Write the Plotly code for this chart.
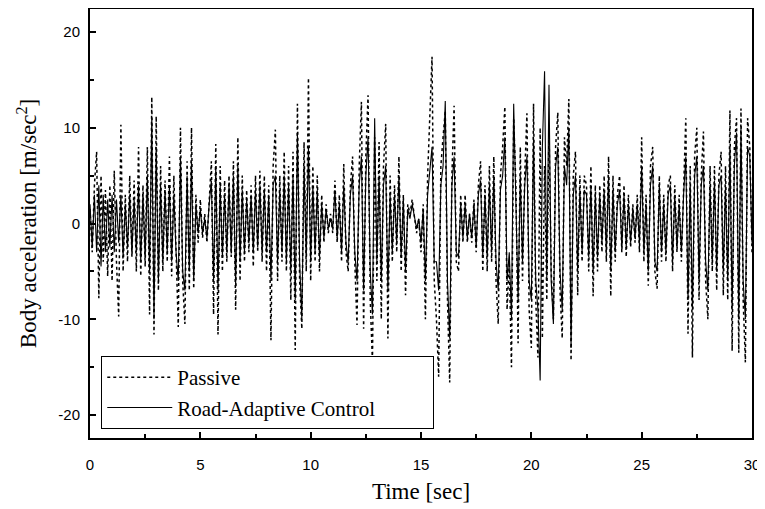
import plotly.graph_objects as go

# Time step 0.1 s, 0..30 s
time_step = 0.1
passive = [
    1.5, -3, 4, 7.5, -7.8, 5, -4, 3.5, -5.5, 4,
    -6, 5.5, -4, -9.7, 10.3, -5, 3, -4, 5, -3.5,
    4.5, -5, 8, -5.5, 4, -4.5, 8, -9.5, 13.2, -11.6,
    11.2, -7, 6, -5, 4.5, -4, 7, -5.5, 5, -4,
    -10.8, 10, -6, -10.5, 6.5, -7, 10, -6.8, 3, -2,
    2.5, -1.5, 1, -2, 3, 6.5, -9.5, 8.3, -11.6, 6,
    -5, 4.5, -4, 5, -3.5, 6.5, -9, 9, -6, 5,
    -4, 3.5, -3, 4, -4.5, 5, -3, 5.5, -4, 5,
    -5, 4, -12.2, 6, 9.8, -6, 5, -4, 7.5, -5,
    6, -8, 7.5, -13.2, 12.5, -6, -11, 8.5, -5, 15.2,
    -6, 6, -4, 5, -5, 3, -2, 2, -1, 1,
    -1, 4.5, -2, 3, -4, 6.2, -3, -5, 4, 7,
    -4, -10.6, 6, 12.7, -11, 7, 13.4, -8, -14.5, 9,
    -6, 8.5, -10, 6, 10.4, -12, 5, -4, 4, -3,
    7, -5, 3, -7.5, 2, 1, 2.5, 1, -1, 0.5,
    -3, 2, -10, 5, 12, 17.4, -6, -10, -16, 6,
    9, 11.8, -8, -16.6, 5, 12.3, -4, -5, 3, -2,
    3, -2, 1, -2, 2.5, -3, 4, 6.5, -5, 4,
    -5, 6, -4, 7, -6, -10.5, 5, 8, 12.2, -9,
    -4, -15, 11, 4, -12.5, 8, -6, 5, 11.5, -9,
    -13, 12.5, -8, -14, 10, -12, 6, -8, 10, -5,
    -10, 8, 11.6, -7, -12, 9, 6, 13, -14.3, 5,
    7.5, -7.5, 5, -4, 5, 4, -5, 6, -7.6, 4,
    -5, 4, -3, 5, -4, 7, -7.6, 5, -4, 3,
    5, -3, 4, -3.5, 3, -2.5, 2, -2, 3, -3,
    9, -4, 3, -6.5, 6, 8, -5, -6.8, 5, -4,
    3, -4, 4, 5, -5, 4, -3, 3, -4, 4,
    11, -11.5, 6, -14, 7, 10, -8, 5, 9.6, -6,
    -10, 6, -5, 6, -7, 5, 7.5, -7.5, 6, -8,
    11.8, -13.3, 8, 11, -13.5, 12, -8, -14.5, 11, 8,
    -3,
]
control = [
    2, -2.5, 3, -3, 4, -4.5, 3, -3, 2.5, -2.5,
    3, -3, 2.5, -2, 3, -3.5, 2, -2.5, 3, -3,
    2.5, -3, 4, -4, 3, -3.5, 5, -5, 11, -10,
    8, -6, 4, -4, 3.5, -3, 4, -4, 3, -3,
    -6, 7, -5, -7, 5, -5, 6.5, -6, 2, -1,
    1.5, -1, 0.5, -1.5, 2, 4.5, -6, 6, -7, 4,
    -3.5, 3, -3, 4, -3, 5, -6.5, 6, -4, 3.5,
    -3, 2.5, -2, 3, -3, 3.5, -2.5, 4, -3, 3.5,
    -3, 3, -6, 4, 5, -4, 3.5, -3, 5, -4,
    4, -5, 5, -8, 9.5, -4, -10, 6, -3.5, 8,
    -4, 4, -3, 3.5, -3.5, 2, -1.5, 1.5, -0.5, 0.5,
    -0.5, 3.5, -1.5, 2, -3, 4, -2, -4, 3, 5,
    -3, -6, 4, 7, -7, 5, 9, -5, -9.5, 11,
    -4, 5, -6, 4, 6, -7, 3, -3, 3, -2,
    5, -3.5, 2.5, -5, 1.5, 0.5, 2, 0.5, -0.5, 0.5,
    -2, 1.5, -6, 3, 6, 8, -4, -4, -7, 4,
    6, 12.8, -6, -12, 4, 7, -3, -3.5, 2, -1.5,
    2, -1.5, 1, -1.5, 2, -2.5, 3, 4.5, -3.5, 3,
    -3.5, 4, -3, 5, -4, -7, 3.5, 5, 9, -6,
    -3, -10, 12.5, 3, -8, 5, -4, 4, 7, -6,
    -8, 9, -6, -9, -16.4, 8, 15.9, -6, 14.5, -6,
    -10.5, 6, 8, -5, -9, 6, 4, 10, -13, 3,
    5, -5, 3.5, -3, 3.5, 3, -3.5, 4, -5, 3,
    -3.5, 3, -2, 3.5, -3, 5, -5, 3.5, -3, 2,
    3.5, -2.5, 3, -2.5, 2, -2, 1.5, -1.5, 2, -2,
    6, -3, 2, -5, 4, 6, -4, -5, 4, -3,
    2, -3, 3, 4, -4, 3, -2.5, 2, -3, 3,
    7, -8, 4, -9, 5, 7, -6, 4, 6, -4,
    -7, 4, -4, 4.5, -5, 4, 5, -5, 4, -6,
    8, -9, 6, 9.5, -10, 10, -6, -10, 8, 7,
    -2,
]
time = [round(i * time_step, 2) for i in range(len(passive))]

x_ticks = [0, 5, 10, 15, 20, 25, 30]
x_tick_text = ["0", "5", "10", "15", "20", "25", "30"]
y_ticks = [-20, -10, 0, 10, 20]
y_tick_text = ["-20", "-10", "0", "10", "20"]

serif = "Liberation Serif, Times New Roman, serif"
sans = "Liberation Sans, Arial, sans-serif"

fig = go.Figure()
fig.add_trace(go.Scatter(x=time, y=passive, mode="lines", name="Passive",
                         line=dict(color="black", width=1.5, dash="dot")))
fig.add_trace(go.Scatter(x=time, y=control, mode="lines",
                         name="Road-Adaptive Control" + "\u00a0" * 10,
                         line=dict(color="black", width=1.1)))

axis_common = dict(showgrid=False, zeroline=False, showline=True, linecolor="black",
                   linewidth=2, mirror=True, ticks="inside", ticklen=6, tickwidth=2,
                   tickcolor="black", automargin=False,
                   tickfont=dict(family=sans, size=15, color="black"),
                   minor=dict(ticks="inside", ticklen=4, tickwidth=1.5, tickcolor="black"))

fig.update_xaxes(range=[0, 30], tickvals=x_ticks, ticktext=x_tick_text, minor_dtick=2.5,
                 ticklabelstandoff=12,
                 title=dict(text="Time [sec]", font=dict(family=serif, size=23, color="black"),
                            standoff=11),
                 **axis_common)
fig.update_yaxes(range=[-22.4, 22.4], tickvals=y_ticks, ticktext=y_tick_text, minor_dtick=5,
                 ticklabelstandoff=5,
                 title=dict(text="Body acceleration [m/sec<sup>2</sup>]" + "\u00a0" * 6,
                            font=dict(family=serif, size=23, color="black"), standoff=15),
                 **axis_common)

fig.update_layout(
    width=757, height=502,
    margin=dict(l=82, r=13, t=1, b=72),
    paper_bgcolor="white", plot_bgcolor="white",
    showlegend=True,
    legend=dict(x=0.017, y=0.021, xanchor="left", yanchor="bottom",
                bgcolor="white", bordercolor="black", borderwidth=1,
                font=dict(family=serif, size=21, color="black"),
                itemwidth=65, tracegroupgap=0),
)

fig.write_html("out.html")
